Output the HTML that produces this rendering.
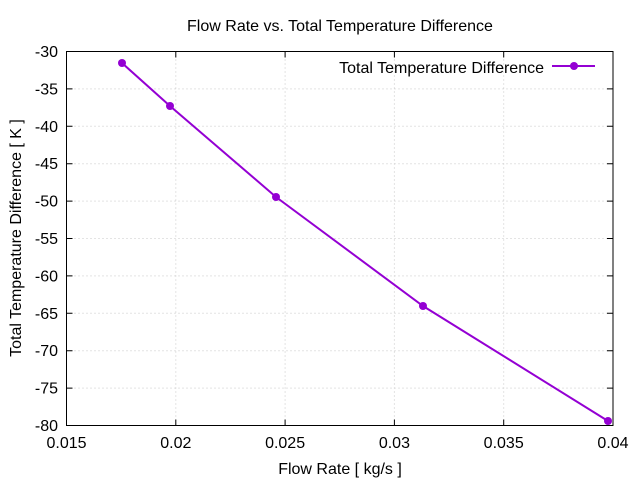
<!DOCTYPE html>
<html><head><meta charset="utf-8"><style>body{margin:0;background:#fff}svg{display:block}text{font-family:"Liberation Sans",sans-serif;font-size:16px;fill:#000}</style></head><body>
<svg width="640" height="480" xmlns="http://www.w3.org/2000/svg">
<g stroke="#c8c8c8" stroke-width="1" stroke-dasharray="1,3">
<line x1="175.8" y1="51.5" x2="175.8" y2="425.5"/><line x1="285.1" y1="51.5" x2="285.1" y2="425.5"/><line x1="394.4" y1="51.5" x2="394.4" y2="425.5"/><line x1="503.7" y1="51.5" x2="503.7" y2="425.5"/>
<line x1="66.5" y1="88.9" x2="613" y2="88.9"/><line x1="66.5" y1="126.3" x2="613" y2="126.3"/><line x1="66.5" y1="163.7" x2="613" y2="163.7"/><line x1="66.5" y1="201.1" x2="613" y2="201.1"/><line x1="66.5" y1="238.5" x2="613" y2="238.5"/><line x1="66.5" y1="275.9" x2="613" y2="275.9"/><line x1="66.5" y1="313.3" x2="613" y2="313.3"/><line x1="66.5" y1="350.7" x2="613" y2="350.7"/><line x1="66.5" y1="388.1" x2="613" y2="388.1"/>
</g>
<rect x="66.5" y="51.5" width="546.5" height="374" fill="none" stroke="#000"/>
<g stroke="#000">
<path d="M175.8 51.5v6M285.1 51.5v6M394.4 51.5v6M503.7 51.5v6M175.8 425.5v-6M285.1 425.5v-6M394.4 425.5v-6M503.7 425.5v-6"/>
<path d="M66.5 88.9h6M66.5 126.3h6M66.5 163.7h6M66.5 201.1h6M66.5 238.5h6M66.5 275.9h6M66.5 313.3h6M66.5 350.7h6M66.5 388.1h6M613 88.9h-6M613 126.3h-6M613 163.7h-6M613 201.1h-6M613 238.5h-6M613 275.9h-6M613 313.3h-6M613 350.7h-6M613 388.1h-6"/>
</g>
<g text-anchor="end">
<text x="58" y="57">-30</text><text x="58" y="94.4">-35</text><text x="58" y="131.8">-40</text><text x="58" y="169.2">-45</text><text x="58" y="206.6">-50</text><text x="58" y="244">-55</text><text x="58" y="281.4">-60</text><text x="58" y="318.8">-65</text><text x="58" y="356.2">-70</text><text x="58" y="393.6">-75</text><text x="58" y="431">-80</text>
</g>
<g text-anchor="middle">
<text x="66.5" y="448">0.015</text><text x="175.8" y="448">0.02</text><text x="285.1" y="448">0.025</text><text x="394.4" y="448">0.03</text><text x="503.7" y="448">0.035</text><text x="613" y="448">0.04</text>
<text x="340" y="474">Flow Rate [ kg/s ]</text>
<text x="340" y="31">Flow Rate vs. Total Temperature Difference</text>
<text transform="translate(21,238) rotate(-90)">Total Temperature Difference [ K ]</text>
</g>
<text x="544" y="73" text-anchor="end">Total Temperature Difference</text>
<g stroke="#9400d3" stroke-width="2" fill="none"><line x1="552" y1="66" x2="595" y2="66"/>
<polyline points="122,63 170,106 276,197 423,306 608,421"/></g>
<g fill="#9400d3"><circle cx="574" cy="66" r="4"/><circle cx="122" cy="63" r="4"/><circle cx="170" cy="106" r="4"/><circle cx="276" cy="197" r="4"/><circle cx="423" cy="306" r="4"/><circle cx="608" cy="421" r="4"/></g>
</svg></body></html>
